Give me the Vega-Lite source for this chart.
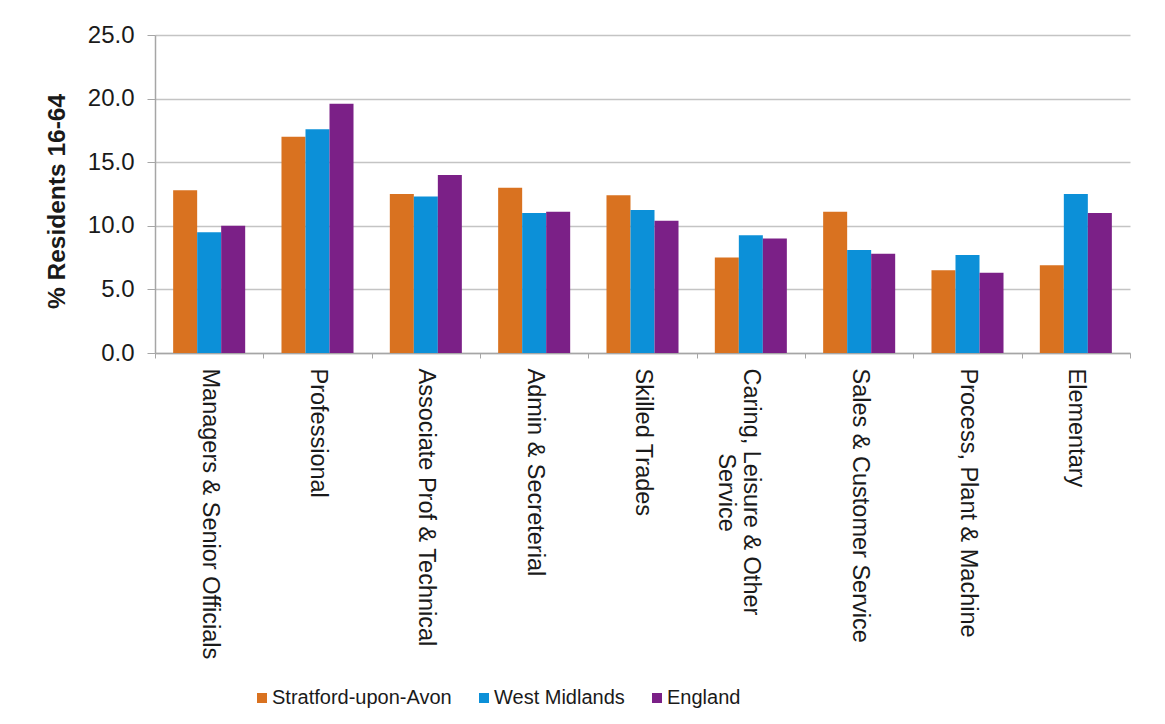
{
  "$schema": "https://vega.github.io/schema/vega-lite/v6.json",
  "width": 975,
  "height": 318,
  "autosize": {"type": "none"},
  "padding": {"left": 155, "top": 35, "right": 35, "bottom": 371},
  "background": "white",
  "config": {
    "view": {"stroke": null},
    "font": "Liberation Sans",
    "axis": {"labelFont": "Liberation Sans", "titleFont": "Liberation Sans"},
    "legend": {"labelFont": "Liberation Sans"}
  },
  "data": {
    "values": [
      {"occupation": "Managers & Senior Officials", "area": "Stratford-upon-Avon", "value": 12.8},
      {"occupation": "Managers & Senior Officials", "area": "West Midlands", "value": 9.5},
      {"occupation": "Managers & Senior Officials", "area": "England", "value": 10.0},
      {"occupation": "Professional", "area": "Stratford-upon-Avon", "value": 17.0},
      {"occupation": "Professional", "area": "West Midlands", "value": 17.6},
      {"occupation": "Professional", "area": "England", "value": 19.6},
      {"occupation": "Associate Prof & Technical", "area": "Stratford-upon-Avon", "value": 12.5},
      {"occupation": "Associate Prof & Technical", "area": "West Midlands", "value": 12.3},
      {"occupation": "Associate Prof & Technical", "area": "England", "value": 14.0},
      {"occupation": "Admin & Secreterial", "area": "Stratford-upon-Avon", "value": 13.0},
      {"occupation": "Admin & Secreterial", "area": "West Midlands", "value": 11.0},
      {"occupation": "Admin & Secreterial", "area": "England", "value": 11.1},
      {"occupation": "Skilled Trades", "area": "Stratford-upon-Avon", "value": 12.4},
      {"occupation": "Skilled Trades", "area": "West Midlands", "value": 11.25},
      {"occupation": "Skilled Trades", "area": "England", "value": 10.4},
      {"occupation": "Caring, Leisure & Other Service", "area": "Stratford-upon-Avon", "value": 7.5},
      {"occupation": "Caring, Leisure & Other Service", "area": "West Midlands", "value": 9.25},
      {"occupation": "Caring, Leisure & Other Service", "area": "England", "value": 9.0},
      {"occupation": "Sales & Customer Service", "area": "Stratford-upon-Avon", "value": 11.1},
      {"occupation": "Sales & Customer Service", "area": "West Midlands", "value": 8.1},
      {"occupation": "Sales & Customer Service", "area": "England", "value": 7.8},
      {"occupation": "Process, Plant & Machine", "area": "Stratford-upon-Avon", "value": 6.5},
      {"occupation": "Process, Plant & Machine", "area": "West Midlands", "value": 7.7},
      {"occupation": "Process, Plant & Machine", "area": "England", "value": 6.3},
      {"occupation": "Elementary", "area": "Stratford-upon-Avon", "value": 6.9},
      {"occupation": "Elementary", "area": "West Midlands", "value": 12.5},
      {"occupation": "Elementary", "area": "England", "value": 11.0}
    ]
  },
  "mark": {"type": "bar"},
  "encoding": {
    "x": {
      "field": "occupation",
      "type": "nominal",
      "sort": null,
      "scale": {"paddingInner": 0, "paddingOuter": 0},
      "axis": {
        "title": null,
        "labelAngle": 90,
        "labelAlign": "left",
        "labelBaseline": "middle",
        "labelFontSize": 23.5,
        "labelColor": "#1a1a1a",
        "labelPadding": 10,
        "labelLineHeight": 25,
        "labelLimit": 400,
        "labelExpr": "datum.value == 'Caring, Leisure & Other Service' ? ['Caring, Leisure & Other', '\u200b\u00a0\u00a0\u00a0\u00a0\u00a0\u00a0\u00a0\u00a0\u00a0\u00a0\u00a0\u00a0\u00a0Service'] : datum.value",
        "tickBand": "extent",
        "tickSize": 5,
        "tickColor": "#A6A6A6",
        "domainColor": "#A6A6A6",
        "domainWidth": 1.5,
        "grid": false
      }
    },
    "xOffset": {
      "field": "area",
      "type": "nominal",
      "sort": ["Stratford-upon-Avon", "West Midlands", "England"],
      "scale": {"paddingInner": 0, "paddingOuter": 0.756}
    },
    "y": {
      "field": "value",
      "type": "quantitative",
      "scale": {"domain": [0, 25], "nice": false},
      "axis": {
        "title": "% Residents 16-64",
        "titleFontSize": 24.5,
        "titleFontWeight": "bold",
        "titleColor": "#1a1a1a",
        "titleX": -98,
        "titleY": 166,
        "titleBaseline": "middle",
        "titleAngle": -90,
        "titleAlign": "center",
        "values": [0, 5, 10, 15, 20, 25],
        "format": ".1f",
        "labelFontSize": 24,
        "labelColor": "#1a1a1a",
        "labelPadding": 13,
        "tickSize": 8,
        "tickColor": "#A6A6A6",
        "domainColor": "#A6A6A6",
        "domainWidth": 1.5,
        "gridColor": "#C4C4C4",
        "gridWidth": 1.5
      }
    },
    "color": {
      "field": "area",
      "type": "nominal",
      "scale": {
        "domain": ["Stratford-upon-Avon", "West Midlands", "England"],
        "range": ["#D97220", "#0C90D8", "#7B2087"]
      },
      "legend": {
        "title": null,
        "orient": "none",
        "direction": "horizontal",
        "legendX": 97,
        "legendY": 653,
        "padding": 0,
        "symbolType": "square",
        "symbolSize": 100,
        "symbolStrokeWidth": 0,
        "labelFontSize": 20,
        "labelColor": "#1a1a1a",
        "labelOffset": 0,
        "columnPadding": 22,
        "labelLimit": 400
      }
    }
  }
}
